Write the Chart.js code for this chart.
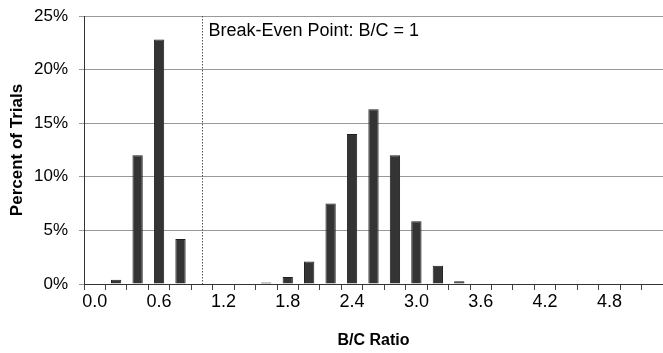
<!DOCTYPE html>
<html>
<head>
<meta charset="utf-8">
<script src="https://cdn.jsdelivr.net/npm/chart.js@4/dist/chart.umd.min.js"></script>
<style>
  html, body { margin: 0; padding: 0; background: #fff; }
  #wrap { width: 663px; height: 353px; }
</style>
</head>
<body>
<div id="wrap"><canvas id="myChart" width="663" height="353"></canvas></div>
<script>
// B/C ratio categories (step 0.2)
var ratios = ['0.0','0.2','0.4','0.6','0.8','1.0','1.2','1.4','1.6','1.8','2.0','2.2','2.4','2.6',
              '2.8','3.0','3.2','3.4','3.6','3.8','4.0','4.2','4.4','4.6','4.8','5.0','5.2'];
// percent of trials for each category
var percentTrials = [0, 0.4, 12.0, 22.8, 4.2, 0, 0, 0, 0.15, 0.65, 2.1, 7.5, 14.0, 16.3,
                     12.0, 5.85, 1.7, 0.25, 0, 0, 0, 0, 0, 0, 0, 0, 0];
var yTicks = [0, 5, 10, 15, 20, 25];
var breakEven = '1.0';
var breakEvenText = 'Break-Even Point: B/C = 1';

var FONT = '"Liberation Sans", Arial, sans-serif';

// линия точки безубыточности
var breakEvenLine = {
    id: 'breakEvenLine',
    afterDatasetsDraw: function(chart){
        var c = chart.ctx;
        var x = Math.round(chart.scales.x.getPixelForValue(ratios.indexOf(breakEven))) + 0.5;
        var area = chart.chartArea;
        c.save();
        c.strokeStyle = '#555';
        c.lineWidth = 1;
        c.setLineDash([1.5, 1.5]);
        c.beginPath();
        c.moveTo(x, area.top);
        c.lineTo(x, area.bottom);
        c.stroke();
        c.setLineDash([]);
        c.fillStyle = '#000';
        c.font = '18px ' + FONT;
        c.textBaseline = 'middle';
        c.fillText(breakEvenText, x + 6, area.top + 15.5);
        c.restore();
    }
};

var ctx = document.getElementById('myChart').getContext('2d');
var myChart = new Chart(ctx, {
    type: 'bar',
    data: {
        labels: ratios,
        datasets: [{
            label: 'Percent of Trials',
            data: percentTrials,
            backgroundColor: '#343434',
            borderColor: '#1e1e1e',
            borderWidth: 1,
            barPercentage: 0.48,
            categoryPercentage: 1.0
        }]
    },
    options: {
        responsive: false,
        animation: false,
        layout: { padding: { top: 16, right: 0, left: 0, bottom: 3 } },
        plugins: { legend: { display: false }, tooltip: { enabled: false } },
        scales: {
            x: {
                offset: true,
                grid: { display: true, drawOnChartArea: false, offset: true, tickLength: 6, color: '#444' },
                border: { color: '#333', width: 1 },
                ticks: {
                    autoSkip: false,
                    maxRotation: 0,
                    color: '#000',
                    font: { family: FONT, size: 18 },
                    padding: 1,
                    callback: function(v, i){ return i % 3 === 0 ? ratios[i] : ''; }
                },
                title: {
                    display: true,
                    text: 'B/C Ratio',
                    color: '#000',
                    font: { family: FONT, size: 16, weight: 'bold' },
                    padding: { top: 0, bottom: 0 }
                },
                afterFit: function(s){ s.height = 66; }
            },
            y: {
                min: 0,
                max: 25,
                afterBuildTicks: function(s){ s.ticks = yTicks.map(function(v){ return { value: v }; }); },
                grid: { color: '#999', tickLength: 5, drawTicks: true },
                border: { color: '#333', width: 1 },
                ticks: {
                    color: '#000',
                    font: { family: FONT, size: 17 },
                    padding: 11,
                    callback: function(v){ return v + '%'; }
                },
                title: {
                    display: true,
                    text: 'Percent of Trials',
                    color: '#000',
                    font: { family: FONT, size: 17, weight: 'bold' },
                    padding: { top: 7, bottom: 0 }
                },
                afterFit: function(s){ s.width = 84; s.paddingTop = 0; s.paddingBottom = 0; }
            }
        }
    },
    plugins: [breakEvenLine]
});
</script>
</body>
</html>
